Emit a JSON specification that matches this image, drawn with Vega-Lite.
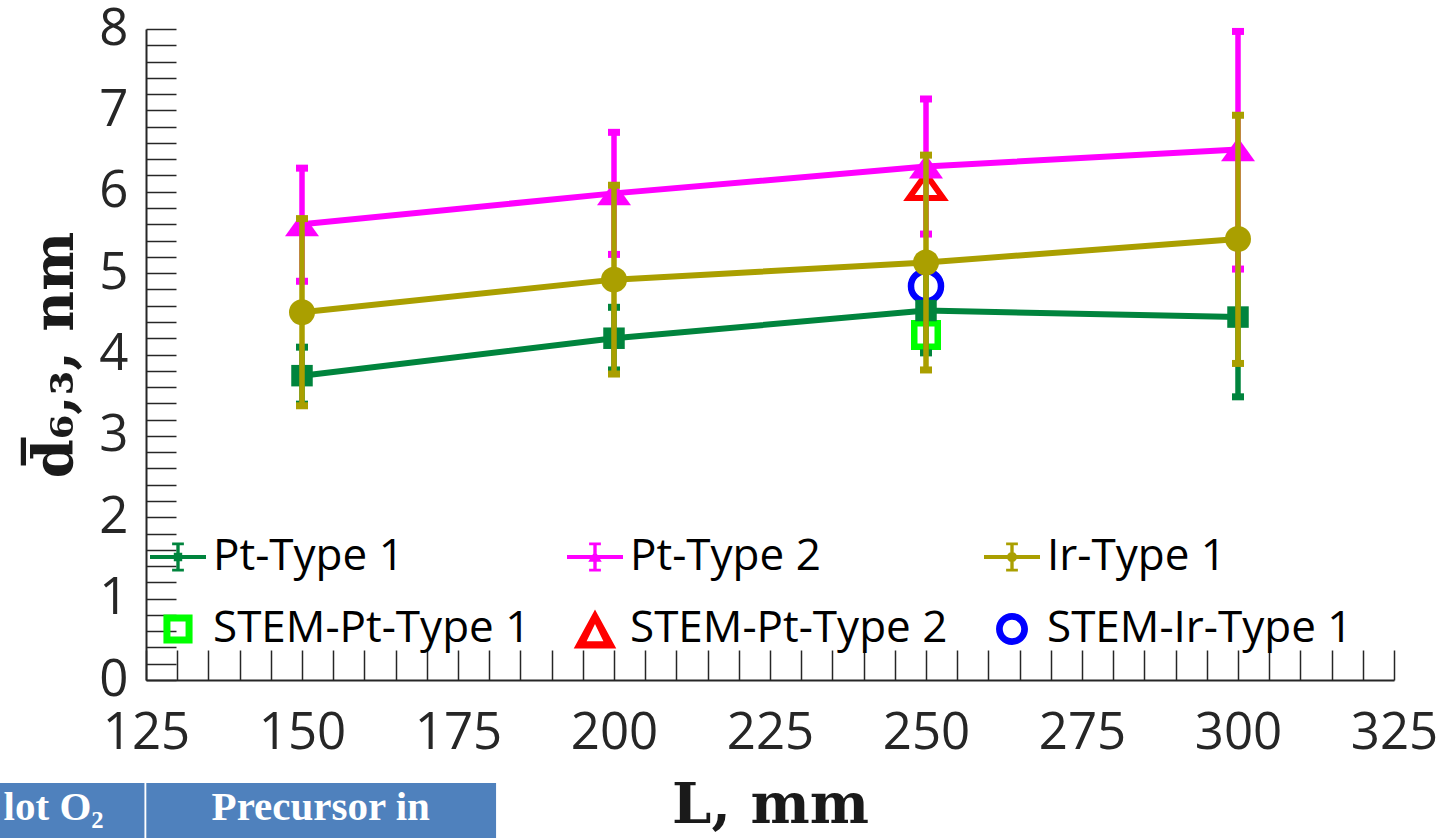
{
  "$schema": "https://vega.github.io/schema/vega-lite/v6.json",
  "width": 1248,
  "height": 651,
  "autosize": {"type": "none"},
  "padding": {"left": 146, "top": 29, "right": 56, "bottom": 158},
  "background": "white",
  "config": {
    "view": {"stroke": null},
    "axis": {"grid": false, "domainColor": "#262626", "domainWidth": 2, "tickColor": "#262626", "tickWidth": 1.5, "labelColor": "#262626", "labelFont": "Open Sans", "labelFontSize": 51, "labelOverlap": false, "labelBound": false, "labelFlush": false, "titleColor": "#1a1a1a", "titleFont": "DejaVu Serif", "titleFontWeight": "bold", "titleFontSize": 56}
  },
  "datasets": {
    "series": [
      {"series": "Pt-Type 1", "L": 150, "d": 3.74, "lo": 3.39, "hi": 4.09},
      {"series": "Pt-Type 1", "L": 200, "d": 4.2, "lo": 3.81, "hi": 4.58},
      {"series": "Pt-Type 1", "L": 250, "d": 4.54, "lo": 4.02, "hi": 5.07},
      {"series": "Pt-Type 1", "L": 300, "d": 4.46, "lo": 3.48, "hi": 5.44},
      {"series": "Pt-Type 2", "L": 150, "d": 5.6, "lo": 4.9, "hi": 6.29},
      {"series": "Pt-Type 2", "L": 200, "d": 5.98, "lo": 5.23, "hi": 6.73},
      {"series": "Pt-Type 2", "L": 250, "d": 6.31, "lo": 5.48, "hi": 7.14},
      {"series": "Pt-Type 2", "L": 300, "d": 6.52, "lo": 5.05, "hi": 7.97},
      {"series": "Ir-Type 1", "L": 150, "d": 4.52, "lo": 3.37, "hi": 5.67},
      {"series": "Ir-Type 1", "L": 200, "d": 4.92, "lo": 3.76, "hi": 6.08},
      {"series": "Ir-Type 1", "L": 250, "d": 5.13, "lo": 3.81, "hi": 6.45},
      {"series": "Ir-Type 1", "L": 300, "d": 5.42, "lo": 3.89, "hi": 6.94}
    ],
    "stem": [
      {"series": "STEM-Pt-Type 1", "L": 250, "d": 4.24},
      {"series": "STEM-Pt-Type 2", "L": 250, "d": 6.07},
      {"series": "STEM-Ir-Type 1", "L": 250, "d": 4.84}
    ],
    "legend": [
      {"series": "Pt-Type 1"},
      {"series": "Pt-Type 2"},
      {"series": "Ir-Type 1"},
      {"series": "STEM-Pt-Type 1"},
      {"series": "STEM-Pt-Type 2"},
      {"series": "STEM-Ir-Type 1"}
    ],
    "cells": [
      {"L": 101.6, "L2": 124.75, "d": -1.266, "d2": -2.0},
      {"L": 125.05, "L2": 181.1, "d": -1.266, "d2": -2.0}
    ],
    "celltext1": [
      {"label": "lot O₂", "L": 118.2, "d": -1.72}
    ],
    "celltext2": [
      {"label": "Precursor in", "L": 153.0, "d": -1.72}
    ]
  },
  "encoding": {
    "x": {
      "field": "L", "type": "quantitative",
      "scale": {"domain": [125, 325], "nice": false, "zero": false},
      "axis": {
        "title": "L, mm",
        "titlePadding": 20,
        "values": [125,130,135,140,145,150,155,160,165,170,175,180,185,190,195,200,205,210,215,220,225,230,235,240,245,250,255,260,265,270,275,280,285,290,295,300,305,310,315,320,325],
        "tickSize": -30,
        "labelExpr": "datum.value % 25 === 0 ? datum.label : ''",
        "labelPadding": 58,
        "encode": {"ticks": {"y2": {"condition": {"test": "datum.value % 25 === 0", "value": -30}, "value": -15}}}
      }
    },
    "y": {
      "field": "d", "type": "quantitative",
      "scale": {"domain": [0, 8], "nice": false, "zero": false},
      "axis": {
        "title": "d\u0305\u2086,\u2083, nm",
        "titlePadding": 14,
        "values": [0,0.2,0.4,0.6,0.8,1,1.2,1.4,1.6,1.8,2,2.2,2.4,2.6,2.8,3,3.2,3.4,3.6,3.8,4,4.2,4.4,4.6,4.8,5,5.2,5.4,5.6,5.8,6,6.2,6.4,6.6,6.8,7,7.2,7.4,7.6,7.8,8],
        "tickSize": -30,
        "labelExpr": "abs(datum.value - round(datum.value)) < 0.01 ? format(datum.value, 'd') : ''",
        "labelPadding": 48,
        "encode": {"ticks": {"x2": {"condition": {"test": "abs(datum.value - round(datum.value)) < 0.01", "value": 30}, "value": 15}}}
      }
    }
  },
  "layer": [
    {
      "data": {"name": "cells"},
      "mark": {"type": "rect", "color": "#4F81BD"},
      "encoding": {"x2": {"field": "L2"}, "y2": {"field": "d2"}}
    },
    {
      "data": {"name": "celltext1"},
      "mark": {"type": "text", "color": "white", "font": "Liberation Serif", "fontWeight": "bold", "fontSize": 41, "baseline": "alphabetic", "align": "right"},
      "encoding": {"text": {"field": "label"}}
    },
    {
      "data": {"name": "celltext2"},
      "mark": {"type": "text", "color": "white", "font": "Liberation Serif", "fontWeight": "bold", "fontSize": 41, "baseline": "alphabetic", "align": "center"},
      "encoding": {"text": {"field": "label"}}
    },
    {
      "data": {"name": "stem"},
      "transform": [{"filter": "datum.series === 'STEM-Pt-Type 1'"}],
      "mark": {"type": "point", "shape": "square", "filled": false, "color": "#00FF00", "strokeWidth": 6.5, "size": 552, "opacity": 1}
    },
    {
      "data": {"name": "stem"},
      "transform": [{"filter": "datum.series === 'STEM-Pt-Type 2'"}],
      "mark": {"type": "point", "shape": "M0,-0.7L1,0.7L-1,0.7Z", "filled": false, "color": "#FF0000", "strokeWidth": 6, "size": 1156, "opacity": 1}
    },
    {
      "data": {"name": "stem"},
      "transform": [{"filter": "datum.series === 'STEM-Ir-Type 1'"}],
      "mark": {"type": "point", "shape": "circle", "filled": false, "color": "#0000FF", "strokeWidth": 6.5, "size": 900, "opacity": 1}
    },
    {
      "data": {"name": "series"},
      "transform": [{"filter": "datum.series === 'Pt-Type 1'"}],
      "layer": [
        {"mark": {"type": "rule", "color": "#00843D", "strokeWidth": 5.5}, "encoding": {"y": {"field": "lo", "type": "quantitative"}, "y2": {"field": "hi"}}},
        {"mark": {"type": "tick", "orient": "horizontal", "color": "#00843D", "size": 12, "thickness": 7, "opacity": 1}, "encoding": {"y": {"field": "lo", "type": "quantitative"}}},
        {"mark": {"type": "tick", "orient": "horizontal", "color": "#00843D", "size": 12, "thickness": 7, "opacity": 1}, "encoding": {"y": {"field": "hi", "type": "quantitative"}}},
        {"mark": {"type": "line", "color": "#00843D", "strokeWidth": 6}},
        {"mark": {"type": "point", "shape": "square", "filled": true, "color": "#00843D", "size": 462, "opacity": 1}}
      ]
    },
    {
      "data": {"name": "series"},
      "transform": [{"filter": "datum.series === 'Pt-Type 2'"}],
      "layer": [
        {"mark": {"type": "rule", "color": "#FF00FF", "strokeWidth": 5.5}, "encoding": {"y": {"field": "lo", "type": "quantitative"}, "y2": {"field": "hi"}}},
        {"mark": {"type": "tick", "orient": "horizontal", "color": "#FF00FF", "size": 12, "thickness": 7, "opacity": 1}, "encoding": {"y": {"field": "lo", "type": "quantitative"}}},
        {"mark": {"type": "tick", "orient": "horizontal", "color": "#FF00FF", "size": 12, "thickness": 7, "opacity": 1}, "encoding": {"y": {"field": "hi", "type": "quantitative"}}},
        {"mark": {"type": "line", "color": "#FF00FF", "strokeWidth": 6}},
        {"mark": {"type": "point", "shape": "M0,-0.7L1,0.7L-1,0.7Z", "filled": true, "color": "#FF00FF", "size": 1156, "opacity": 1}}
      ]
    },
    {
      "data": {"name": "series"},
      "transform": [{"filter": "datum.series === 'Ir-Type 1'"}],
      "layer": [
        {"mark": {"type": "rule", "color": "#AA9F00", "strokeWidth": 5.5}, "encoding": {"y": {"field": "lo", "type": "quantitative"}, "y2": {"field": "hi"}}},
        {"mark": {"type": "tick", "orient": "horizontal", "color": "#AA9F00", "size": 12, "thickness": 7, "opacity": 1}, "encoding": {"y": {"field": "lo", "type": "quantitative"}}},
        {"mark": {"type": "tick", "orient": "horizontal", "color": "#AA9F00", "size": 12, "thickness": 7, "opacity": 1}, "encoding": {"y": {"field": "hi", "type": "quantitative"}}},
        {"mark": {"type": "line", "color": "#AA9F00", "strokeWidth": 6}},
        {"mark": {"type": "point", "shape": "circle", "filled": true, "color": "#AA9F00", "size": 676, "opacity": 1}}
      ]
    },
    {
      "data": {"name": "legend"},
      "mark": {"type": "point", "filled": true, "size": 3136, "strokeWidth": 0, "opacity": 1},
      "encoding": {
        "color": {
          "field": "series", "type": "nominal",
          "scale": {
            "domain": ["Pt-Type 1", "Pt-Type 2", "Ir-Type 1", "STEM-Pt-Type 1", "STEM-Pt-Type 2", "STEM-Ir-Type 1"],
            "range": ["#00843D", "#FF00FF", "#AA9F00", "#00FF00", "#FF0000", "#0000FF"]
          },
          "legend": {
            "title": null, "orient": "none", "legendX": 4, "legendY": 500, "columns": 3, "direction": "horizontal", "gridAlign": "all",
            "labelFont": "Open Sans", "labelFontSize": 44, "labelColor": "#000000", "labelLimit": 600, "labelOffset": 7,
            "symbolSize": 3136, "symbolStrokeWidth": 0, "symbolOpacity": 1,
            "columnPadding": 36, "rowPadding": 22, "padding": 0
          }
        },
        "shape": {
          "field": "series", "type": "nominal",
          "scale": {
            "domain": ["Pt-Type 1", "Pt-Type 2", "Ir-Type 1", "STEM-Pt-Type 1", "STEM-Pt-Type 2", "STEM-Ir-Type 1"],
            "range": [
              "M-1,-0.07H1V0.07H-1Z M-0.06,-0.5H0.06V0.5H-0.06Z M-0.21,-0.52H0.21V-0.42H-0.21Z M-0.21,0.42H0.21V0.52H-0.21Z M-0.15,-0.15H0.15V0.15H-0.15Z",
              "M-1,-0.07H1V0.07H-1Z M-0.06,-0.5H0.06V0.5H-0.06Z M-0.21,-0.52H0.21V-0.42H-0.21Z M-0.21,0.42H0.21V0.52H-0.21Z M0,-0.22L0.24,0.17L-0.24,0.17Z",
              "M-1,-0.07H1V0.07H-1Z M-0.06,-0.5H0.06V0.5H-0.06Z M-0.21,-0.52H0.21V-0.42H-0.21Z M-0.21,0.42H0.21V0.52H-0.21Z M-0.18,0A0.18,0.18,0,1,1,0.18,0A0.18,0.18,0,1,1,-0.18,0Z",
              "M-0.52,-0.52H0.52V0.52H-0.52Z M-0.27,-0.27V0.27H0.27V-0.27Z",
              "M0,-0.7L0.76,0.7L-0.76,0.7Z M0,-0.18L-0.3,0.44L0.3,0.44Z",
              "M-0.57,0A0.57,0.57,0,1,1,0.57,0A0.57,0.57,0,1,1,-0.57,0Z M-0.33,0A0.33,0.33,0,1,0,0.33,0A0.33,0.33,0,1,0,-0.33,0Z"
            ]
          }
        }
      }
    }
  ]
}
